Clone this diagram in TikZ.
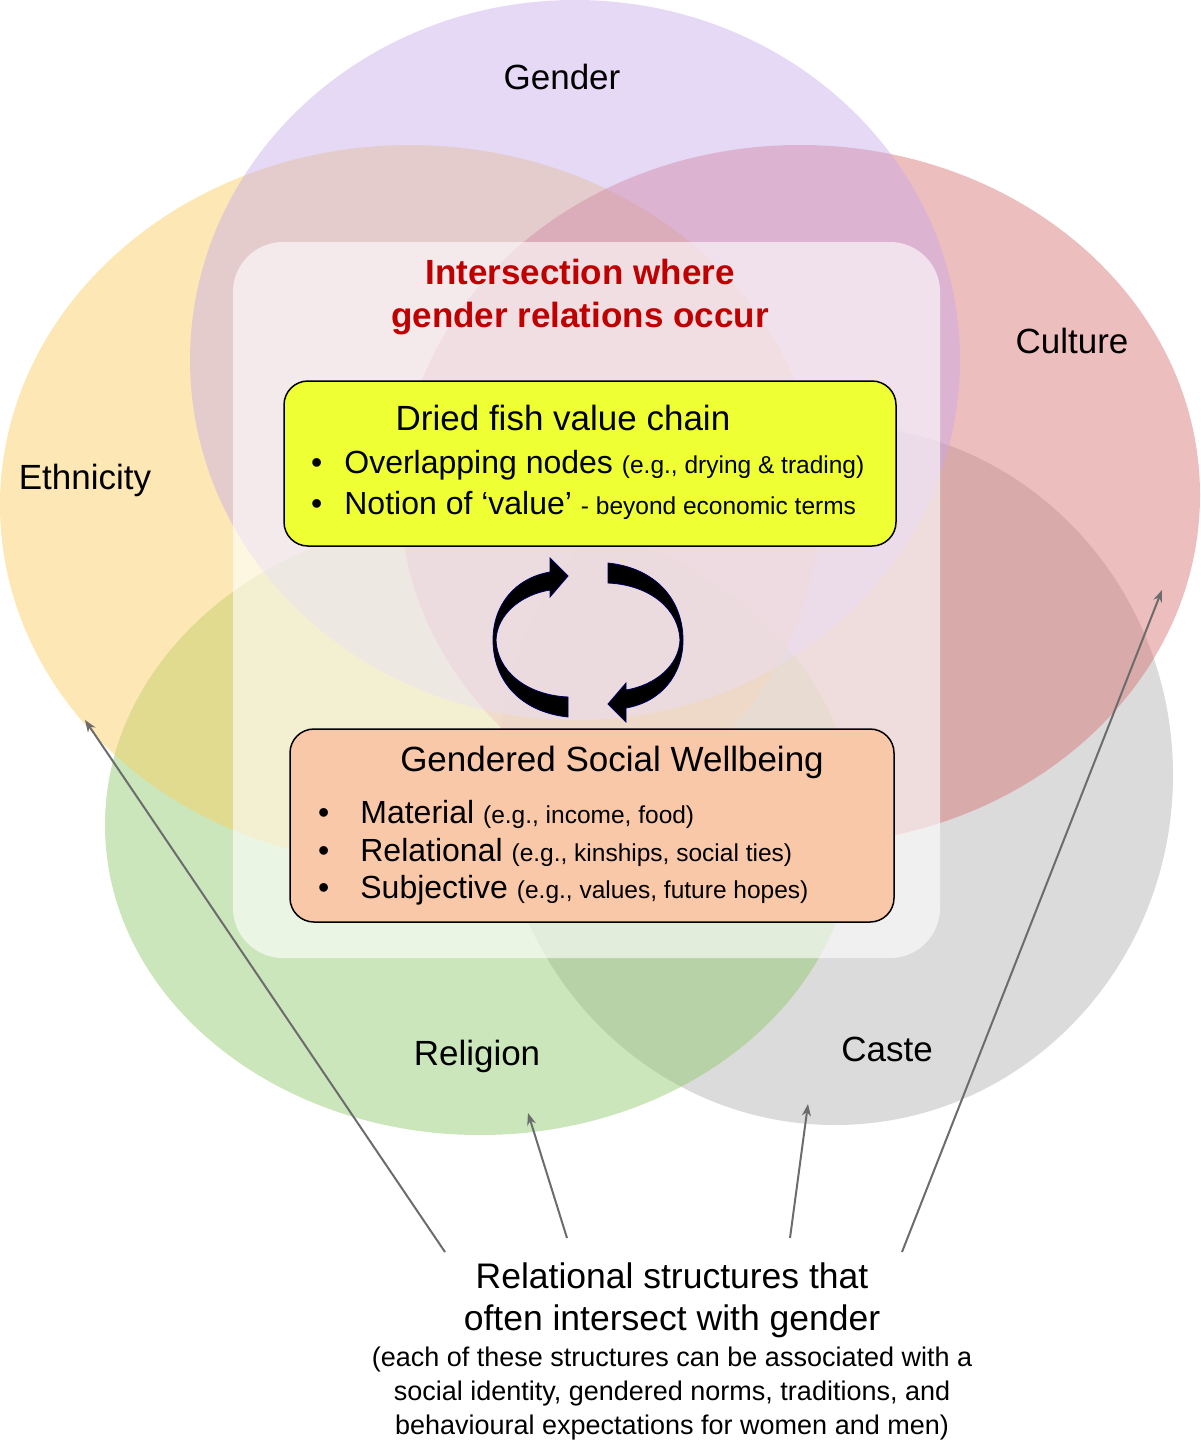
\documentclass[tikz,border=0pt]{standalone}
\usepackage{fontspec}
\usetikzlibrary{arrows.meta}
\setmainfont{Liberation Sans}
\begin{document}
\begin{tikzpicture}[x=1pt,y=-1pt,
  venn/.style={fill opacity=0.45,draw=none},
  lbl/.style={font=\fontsize{35}{40}\selectfont},
  box/.style={draw=black,line width=1.5pt,rounded corners=24pt},
  bl/.style={anchor=west,inner sep=0pt,font=\fontsize{32}{36}\selectfont},
  ptr/.style={draw=gray!85!black,line width=2pt,-{Stealth[length=12pt,width=9pt]}},
  crescent/.style={fill=black,draw=blue!40!black,line width=0.8pt}]
\useasboundingbox (0,0) rectangle (1200,1445);
\fill[venn,fill={rgb,255:red,175;green,175;blue,175}] (835,775) ellipse [x radius=338,y radius=350];
\fill[venn,fill={rgb,255:red,140;green,200;blue,105}] (480,825) ellipse [x radius=375,y radius=310];
\fill[venn,fill={rgb,255:red,250;green,205;blue,90}] (410,505) ellipse [x radius=410,y radius=360];
\fill[venn,fill={rgb,255:red,215;green,110;blue,110}] (800,495) ellipse [x radius=400,y radius=350];
\fill[venn,fill={rgb,255:red,200;green,170;blue,235}] (575,360) ellipse [x radius=385,y radius=360];
\node[lbl] (gender) at (562,77) {Gender};
\node[lbl] (eth) at (85,480) {Ethnicity};
\node[lbl] (cult) at (1072,341) {Culture};
\node[lbl] (rel) at (477,1056) {Religion};
\node[lbl] (caste) at (887,1049) {Caste};
\fill[white,fill opacity=0.6,rounded corners=50pt] (233,242) rectangle (940,958);
\node[font=\fontsize{35}{43}\selectfont\bfseries,text={rgb,255:red,192;green,0;blue,0},align=center] (title) at (580,297) {Intersection where\\gender relations occur};
\draw[box,fill={rgb,255:red,238;green,255;blue,51}] (284,381) rectangle (896,546);
\node[font=\fontsize{35}{40}\selectfont] (vc) at (563,418) {Dried fish value chain};
\node[bl] (b1) at (311,465) {\textbullet\hspace{22pt}Overlapping nodes {\fontsize{24.5}{28}\selectfont(e.g., drying \& trading)}};
\node[bl] (b2) at (311,505) {\textbullet\hspace{22pt}Notion of ‘value’ {\fontsize{24.5}{28}\selectfont- beyond economic terms}};
\draw[box,fill={rgb,255:red,248;green,200;blue,168}] (290,729) rectangle (894,922);
\node[font=\fontsize{35}{40}\selectfont] (sw) at (612,762) {Gendered Social Wellbeing};
\node[bl] (m1) at (318,814) {\textbullet\hspace{31pt}Material {\fontsize{24.5}{28}\selectfont(e.g., income, food)}};
\node[bl] (m2) at (318,852) {\textbullet\hspace{31pt}Relational {\fontsize{24.5}{28}\selectfont(e.g., kinships, social ties)}};
\node[bl] (m3) at (318,890) {\textbullet\hspace{31pt}Subjective {\fontsize{24.5}{28}\selectfont(e.g., values, future hopes)}};
\path[crescent] (568,717) .. controls (520,712) and (493,680) .. (493,640) .. controls (493,605) and (515,578) .. (550,572) -- (550,558) -- (568,576) -- (550,597) -- (550,590) .. controls (520,595) and (497,615) .. (496,640) .. controls (497,670) and (525,695) .. (568,697) -- cycle;
\begin{scope}[rotate around={180:(588,640)}]
\path[crescent] (568,717) .. controls (520,712) and (493,680) .. (493,640) .. controls (493,605) and (515,578) .. (550,572) -- (550,558) -- (568,576) -- (550,597) -- (550,590) .. controls (520,595) and (497,615) .. (496,640) .. controls (497,670) and (525,695) .. (568,697) -- cycle;
\end{scope}
\node[align=center,font=\fontsize{35.5}{42}\selectfont] (rs) at (672,1300) {Relational structures that\\often intersect with gender};
\node[align=center,font=\fontsize{27}{34}\selectfont] (note) at (672,1394) {(each of these structures can be associated with a\\social identity, gendered norms, traditions, and\\behavioural expectations for women and men)};
\coordinate (s1) at (445,1252); \coordinate (t1) at (85,720);
\coordinate (s2) at (567,1238); \coordinate (t2) at (528,1113);
\coordinate (s3) at (790,1238); \coordinate (t3) at (808,1104);
\coordinate (s4) at (902,1252); \coordinate (t4) at (1162,590);
\draw[ptr] (s1) -- (t1);
\draw[ptr] (s2) -- (t2);
\draw[ptr] (s3) -- (t3);
\draw[ptr] (s4) -- (t4);
\end{tikzpicture}
\end{document}
